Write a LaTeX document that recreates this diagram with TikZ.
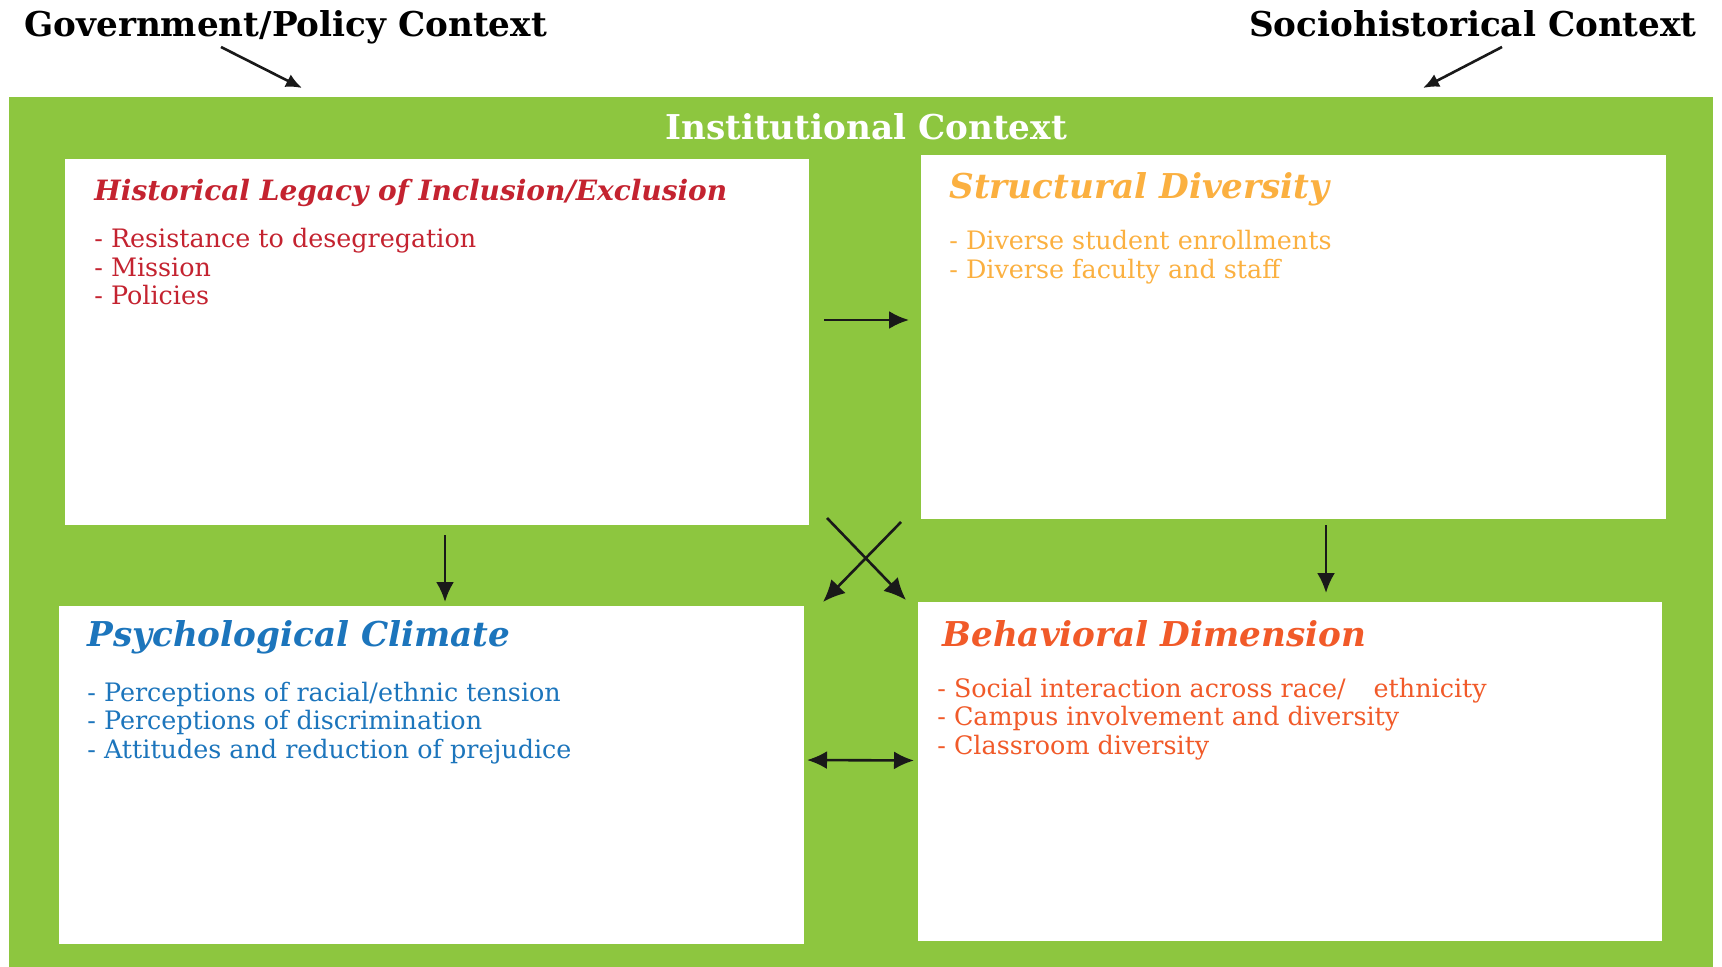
\documentclass[tikz,border=0pt]{standalone}
\usepackage{fontspec}
\setmainfont{DejaVu Serif}
\usepackage{tikz}
\usetikzlibrary{arrows.meta,positioning,calc}
\definecolor{panelgreen}{RGB}{141,198,63}
\definecolor{histred}{RGB}{196,35,48}
\definecolor{structorange}{RGB}{251,176,64}
\definecolor{psychblue}{RGB}{28,117,188}
\definecolor{behavorange}{RGB}{241,90,41}
\tikzset{
  panel/.style={fill=panelgreen, inner sep=0pt, outer sep=0pt},
  card/.style={fill=white, inner sep=0pt, outer sep=0pt},
  head/.style={font=\fontsize{17.1}{20}\selectfont\bfseries, inner sep=0pt, anchor=base west},
  cardtitle/.style={font=\fontsize{17.1}{20}\selectfont\bfseries\itshape, inner sep=0pt, anchor=base west},
  items/.style={font=\fontsize{12.7}{14.25}\selectfont, inner sep=0pt, anchor=base west, align=left},
  arrow/.style={-{Latex[length=10pt,width=9pt]}, line width=1.3pt, black!90},
}

\begin{document}
\begin{tikzpicture}[x=0.5pt,y=-0.5pt]
\useasboundingbox[fill=white] (0,0) rectangle (1722,967);

% outer contexts
\node[head] (gov) at (24,37) {Government/Policy Context};
\node[head, anchor=base east] (socio) at (1697,37) {Sociohistorical Context};

% institutional panel
\node[panel, anchor=north west, minimum width=852pt, minimum height=435pt] (inst) at (9,97) {};
\node[head, white, anchor=base] (insttitle) at (866,140) {Institutional Context};

% four dimensions
\node[card, minimum width=372pt, minimum height=183pt] (hist) at (437,342) {};
\node[card, minimum width=372.5pt, minimum height=182pt] (struct) at (1293.5,337) {};
\node[card, minimum width=372.5pt, minimum height=169pt] (psych) at (431.5,775) {};
\node[card, minimum width=372pt, minimum height=169.5pt] (behav) at (1290,771.5) {};

% lists are anchored on their last line
\node[cardtitle, histred, font=\fontsize{14}{17}\selectfont\bfseries\itshape] (histtitle) at ($(hist.north west)+(29,42)$) {Historical Legacy of Inclusion/Exclusion};
\node[items, histred] (histlist) at ($(hist.north west)+(29,146)$) {- Resistance to desegregation\\- Mission\\- Policies};

\node[cardtitle, structorange] (structtitle) at ($(struct.north west)+(28,44)$) {Structural Diversity};
\node[items, structorange] (structlist) at ($(struct.north west)+(28,123.5)$) {- Diverse student enrollments\\- Diverse faculty and staff};

\node[cardtitle, psychblue] (psychtitle) at ($(psych.north west)+(28,40)$) {Psychological Climate};
\node[items, psychblue] (psychlist) at ($(psych.north west)+(28,152)$) {- Perceptions of racial/ethnic tension\\- Perceptions of discrimination\\- Attitudes and reduction of prejudice};

\node[cardtitle, behavorange] (behavtitle) at ($(behav.north west)+(24,44)$) {Behavioral Dimension};
\node[items, behavorange] (behavlist) at ($(behav.north west)+(19,152)$) {- Social interaction across race/\hspace{1.1em}ethnicity\\- Campus involvement and diversity\\- Classroom diversity};

% context arrows
\coordinate (govtip) at (302,88);
\coordinate (sociotip) at (1423,88);
\draw[arrow, -{Latex[length=8pt,width=7pt]}] ([xshift=98.5pt,yshift=-5pt]gov.base west) -- (govtip);
\draw[arrow, -{Latex[length=8pt,width=7pt]}] ([xshift=-97.5pt,yshift=-5pt]socio.base east) -- (sociotip);

% links between dimensions
\draw[arrow, shorten <=7.5pt, shorten >=6pt] ([yshift=11pt]hist.east) -- ([yshift=8.5pt]struct.west);
\coordinate (hp) at ([xshift=4pt]hist.south);
\draw[arrow, shorten <=5pt, shorten >=2pt] (hp) -- (hp |- psych.north);
\coordinate (sb) at ([xshift=16.25pt]struct.south);
\draw[arrow, shorten <=3pt, shorten >=4.5pt] (sb) -- (sb |- behav.north);
\draw[arrow, -{Latex[length=11pt,width=10pt]}] ([xshift=9pt,yshift=3.5pt]hist.south east) -- ([xshift=-6pt,yshift=1pt]behav.north west);
\draw[arrow, -{Latex[length=11pt,width=10pt]}] ([xshift=-10pt,yshift=-1.5pt]struct.south west) -- ([xshift=9.5pt,yshift=2pt]psych.north east);
\draw[arrow, {Latex[length=10pt,width=9pt]}-{Latex[length=10pt,width=9pt]}, shorten <=1.5pt, shorten >=2pt] ([yshift=7.5pt]psych.east) -- ([yshift=5.5pt]behav.west);
\end{tikzpicture}
\end{document}
